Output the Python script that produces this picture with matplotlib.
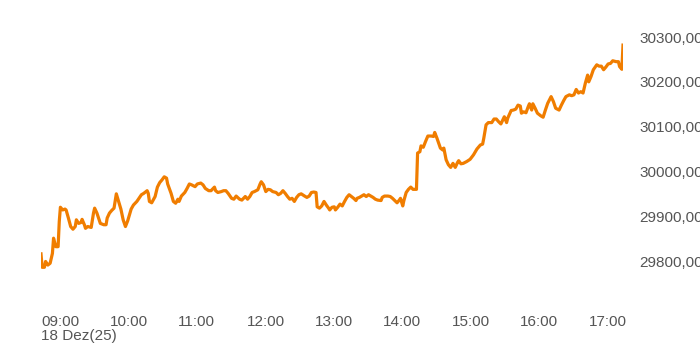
import pandas as pd
import matplotlib
matplotlib.use('Agg')
import matplotlib.pyplot as plt
import matplotlib.dates as mdates

plt.rcParams['font.family'] = ['Liberation Sans', 'DejaVu Sans']

# intraday quotes, 18 Dec 2025
times = [
    '09:00', '09:01', '09:03', '09:04', '09:06', '09:08', '09:10', '09:11', '09:13', '09:15',
    '09:16', '09:17', '09:19', '09:21', '09:22', '09:24', '09:26', '09:28', '09:30', '09:31',
    '09:33', '09:35', '09:36', '09:38', '09:39', '09:41', '09:44', '09:46', '09:47', '09:49',
    '09:52', '09:55', '09:57', '09:58', '10:00', '10:02', '10:04', '10:06', '10:08', '10:10',
    '10:12', '10:14', '10:16', '10:19', '10:21', '10:24', '10:27', '10:28', '10:30', '10:33',
    '10:34', '10:35', '10:37', '10:40', '10:42', '10:44', '10:46', '10:48', '10:50', '10:51',
    '10:54', '10:56', '10:58', '11:00', '11:01', '11:03', '11:06', '11:08', '11:10', '11:12',
    '11:15', '11:17', '11:20', '11:22', '11:24', '11:27', '11:29', '11:32', '11:33', '11:35',
    '11:38', '11:40', '11:42', '11:44', '11:47', '11:49', '11:51', '11:54', '11:56', '11:59',
    '12:01', '12:03', '12:05', '12:07', '12:10', '12:12', '12:13', '12:15', '12:17', '12:19',
    '12:21', '12:23', '12:26', '12:28', '12:30', '12:32', '12:34', '12:36', '12:38', '12:40',
    '12:42', '12:44', '12:46', '12:48', '12:51', '12:53', '12:55', '12:57', '12:59', '13:01',
    '13:02', '13:04', '13:06', '13:08', '13:10', '13:12', '13:13', '13:15', '13:17', '13:18',
    '13:20', '13:22', '13:24', '13:26', '13:28', '13:30', '13:32', '13:34', '13:36', '13:37',
    '13:39', '13:41', '13:43', '13:45', '13:47', '13:49', '13:51', '13:53', '13:55', '13:58',
    '13:59', '14:01', '14:04', '14:06', '14:08', '14:10', '14:12', '14:14', '14:15', '14:17',
    '14:18', '14:20', '14:22', '14:24', '14:26', '14:28', '14:29', '14:30', '14:32', '14:33',
    '14:35', '14:37', '14:39', '14:42', '14:44', '14:45', '14:47', '14:50', '14:52', '14:53',
    '14:55', '14:57', '14:59', '15:01', '15:03', '15:05', '15:06', '15:08', '15:10', '15:13',
    '15:16', '15:19', '15:22', '15:25', '15:27', '15:28', '15:30', '15:32', '15:35', '15:37',
    '15:39', '15:41', '15:43', '15:45', '15:46', '15:48', '15:49', '15:52', '15:54', '15:56',
    '15:58', '16:00', '16:01', '16:03', '16:05', '16:07', '16:08', '16:10', '16:11', '16:13',
    '16:15', '16:18', '16:20', '16:22', '16:24', '16:27', '16:29', '16:31', '16:34', '16:36',
    '16:38', '16:40', '16:43', '16:45', '16:47', '16:49', '16:51', '16:53', '16:55', '16:57',
    '16:59', '17:00', '17:02', '17:04', '17:07', '17:09', '17:11', '17:13', '17:15', '17:17',
    '17:19', '17:21', '17:24', '17:26', '17:27', '17:29', '17:30',
]
prices = [
    29816, 29786, 29786, 29799, 29791, 29795, 29817, 29851, 29832, 29832,
    29888, 29920, 29914, 29916, 29914, 29896, 29877, 29871, 29877, 29892,
    29884, 29886, 29893, 29881, 29873, 29877, 29875, 29907, 29918, 29907,
    29884, 29881, 29881, 29896, 29907, 29913, 29918, 29950, 29933, 29916,
    29892, 29877, 29890, 29916, 29925, 29933, 29944, 29948, 29951, 29957,
    29951, 29933, 29930, 29944, 29965, 29975, 29981, 29988, 29985, 29972,
    29951, 29933, 29929, 29938, 29933, 29945, 29953, 29962, 29972, 29970,
    29966, 29972, 29974, 29970, 29962, 29957, 29957, 29965, 29957, 29953,
    29955, 29957, 29957, 29951, 29940, 29938, 29945, 29938, 29936, 29944,
    29938, 29944, 29953, 29955, 29959, 29972, 29977, 29970, 29955, 29960,
    29959, 29955, 29953, 29948, 29951, 29957, 29951, 29944, 29938, 29940,
    29933, 29942, 29948, 29950, 29945, 29942, 29945, 29953, 29954, 29953,
    29921, 29918, 29923, 29933, 29925, 29918, 29914, 29920, 29921, 29914,
    29920, 29927, 29923, 29933, 29942, 29948, 29944, 29940, 29935, 29940,
    29942, 29945, 29948, 29944, 29948, 29945, 29942, 29938, 29936, 29935,
    29942, 29945, 29945, 29944, 29940, 29935, 29930, 29936, 29940, 29923,
    29935, 29953, 29960, 29965, 29960, 29960, 29960, 30041, 30044, 30057,
    30054, 30067, 30079, 30079, 30078, 30087, 30074, 30052, 30048, 30052,
    30026, 30015, 30009, 30018, 30009, 30020, 30024, 30017, 30018, 30022,
    30027, 30037, 30050, 30059, 30061, 30074, 30104, 30109, 30109, 30117,
    30117, 30111, 30106, 30117, 30122, 30109, 30119, 30136, 30137, 30139,
    30148, 30146, 30130, 30133, 30131, 30145, 30151, 30137, 30151, 30141,
    30130, 30124, 30121, 30137, 30152, 30167, 30156, 30141, 30137, 30148,
    30158, 30167, 30171, 30169, 30171, 30183, 30175, 30178, 30175, 30197,
    30215, 30200, 30212, 30227, 30238, 30235, 30235, 30227, 30233, 30240,
    30241, 30247, 30245, 30245, 30234, 30228, 30282,
]

day = '2025-12-18'
hour_ticks = ['09:00', '10:00', '11:00', '12:00', '13:00', '14:00', '15:00', '16:00', '17:00']
hour_labels = ['09:00\n18 Dez(25)', '10:00', '11:00', '12:00', '13:00', '14:00', '15:00', '16:00', '17:00']
y_ticks = [29800, 29900, 30000, 30100, 30200, 30300]

x = pd.to_datetime([day + ' ' + t for t in times])
text_color = '#555555'

fig = plt.figure(figsize=(7, 3.5), dpi=100)
ax = fig.add_axes([41 / 700, 50 / 350, 582 / 700, 280 / 350])

ax.plot(x, prices, color='#F07D00', linewidth=2.3, solid_joinstyle='round')

ax.set_xlim(pd.Timestamp(day + ' 09:00'), pd.Timestamp(day + ' 17:30'))
ax.set_ylim(29713, 30338)

ax.set_xticks(pd.to_datetime([day + ' ' + t for t in hour_ticks]))
ax.set_xticklabels(hour_labels, ha='left', fontsize=11, color=text_color, linespacing=0.95)
ax.xaxis.set_tick_params(length=0, pad=11)

ax.yaxis.tick_right()
ax.set_yticks(y_ticks)
ax.set_yticklabels([f'{v},00' for v in y_ticks], fontsize=11, color=text_color)
ax.yaxis.set_tick_params(length=0, pad=12)

for side in ax.spines.values():
    side.set_visible(False)

fig.savefig('out.png', dpi=100)
